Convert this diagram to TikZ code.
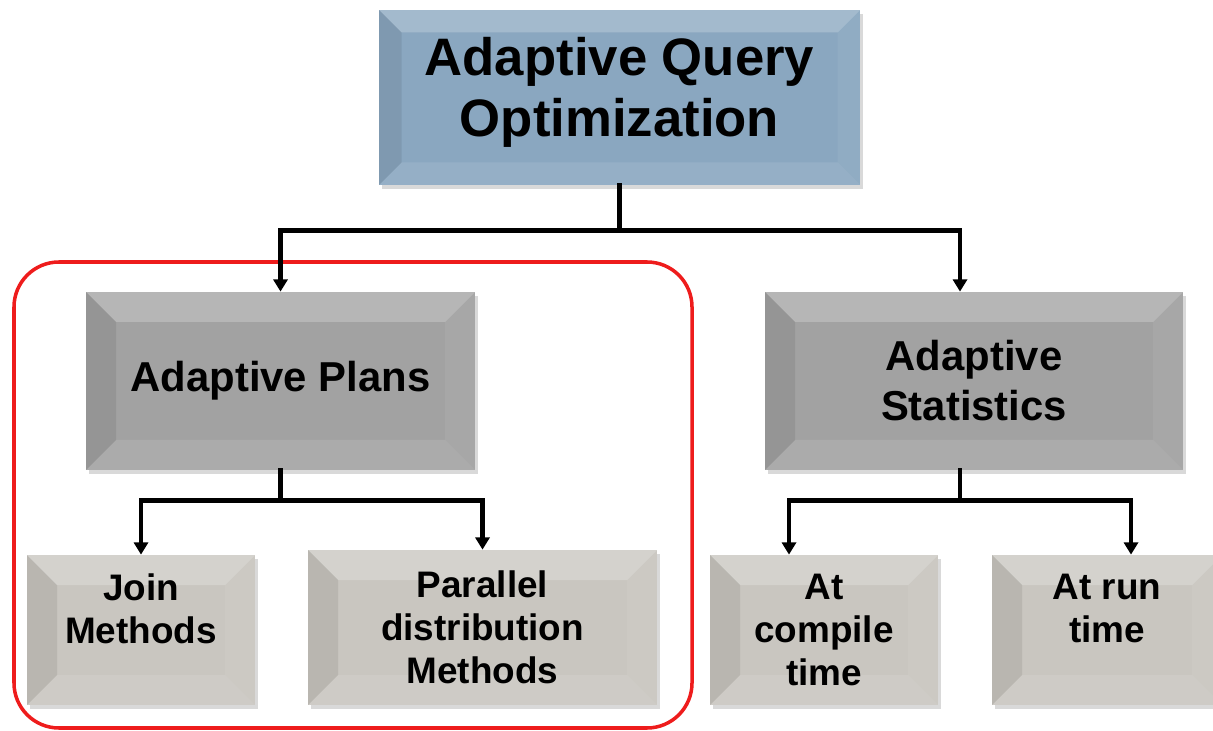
\documentclass[tikz,border=0pt]{standalone}
\usepackage{fontspec}
\setmainfont{Liberation Sans}
\usepackage{xcolor}
\usepackage{tikz}
\usetikzlibrary{arrows.meta,shadows}
\definecolor{topblue}{HTML}{8AA7C0}
\definecolor{midgray}{HTML}{A2A2A2}
\definecolor{leafgray}{HTML}{C9C6C0}
\definecolor{ringred}{HTML}{EE1C1C}
\tikzset{
  bevel/.code={\def\bv{#1}},
  card/.style={fill=#1, inner sep=0pt, align=center, bevel=0.6,
    drop shadow={shadow xshift=1.5pt, shadow yshift=-2pt, opacity=0.3},
    path picture={
      \path (path picture bounding box.north west) coordinate (nw)
            (path picture bounding box.north east) coordinate (ne)
            (path picture bounding box.south east) coordinate (se)
            (path picture bounding box.south west) coordinate (sw);
      \fill[white, opacity=0.22] (nw) -- (ne) -- ([shift={(-\bv,-\bv)}]ne) -- ([shift={(\bv,-\bv)}]nw) -- cycle;
      \fill[black, opacity=0.08] (nw) -- (sw) -- ([shift={(\bv,\bv)}]sw) -- ([shift={(\bv,-\bv)}]nw) -- cycle;
      \fill[white, opacity=0.06] (ne) -- (se) -- ([shift={(-\bv,\bv)}]se) -- ([shift={(-\bv,-\bv)}]ne) -- cycle;
      \fill[white, opacity=0.10] (sw) -- (se) -- ([shift={(-\bv,\bv)}]se) -- ([shift={(\bv,\bv)}]sw) -- cycle;
    }},
  big/.style={font=\bfseries\fontsize{30}{35}\selectfont},
  mid/.style={font=\bfseries\fontsize{23.8}{28.5}\selectfont},
  leaf/.style={card=leafgray, minimum height=3cm, font=\bfseries\fontsize{21}{24.5}\selectfont},
  link/.style={draw=black, line width=2.6pt, line cap=rect},
  tip/.style={link, -{Triangle[width=8pt,length=7pt]}},
  ring/.style={draw=ringred, line width=2pt, rounded corners=0.9cm},
}
\begin{document}
\begin{tikzpicture}
  \useasboundingbox (0,0) rectangle (24.26,-14.62);
  % boxes
  \node[card=topblue, big, bevel=0.45, minimum width=9.62cm, minimum height=3.5cm] (aqo) at (12.39,-1.95) {Adaptive Query\\Optimization\\[-23pt]\mbox{}};
  \node[card=midgray, mid, minimum width=7.78cm, minimum height=3.56cm] (plans) at (5.61,-7.62) {Adaptive Plans};
  \node[card=midgray, mid, minimum width=8.36cm, minimum height=3.56cm] (stats) at (19.48,-7.62) {Adaptive\\Statistics};
  \node[leaf, minimum width=4.56cm] (join) at (2.82,-12.6) {Join\\Methods\\\mbox{}};
  \node[leaf, minimum width=6.98cm, minimum height=3.1cm] (par) at (9.65,-12.55) {Parallel\\distribution\\Methods};
  \node[leaf, minimum width=4.56cm] (comp) at (16.48,-12.6) {At\\compile\\time};
  \node[leaf, minimum width=4.6cm] (run) at (22.14,-12.6) {At run\\time\\\mbox{}};
  % group of plans
  \draw[ring] (0.28,-5.24) rectangle (13.84,-14.56);
  % connectors
  \draw[link] (aqo.south) -- ++(0,-0.9) coordinate (fork);
  \draw[tip] (fork) -| (plans.north);
  \draw[tip] (fork) -| ([xshift=-2.8mm]stats.north);
  \draw[link] (plans.south) -- ++(0,-0.6) coordinate (forkp);
  \draw[tip] (forkp) -| (join.north);
  \draw[tip] (forkp) -| (par.north);
  \draw[link] ([xshift=-2.8mm]stats.south) -- ++(0,-0.6) coordinate (forks);
  \draw[tip] (forks) -| ([xshift=-7mm]comp.north);
  \draw[tip] (forks) -| ([xshift=4.8mm]run.north);
\end{tikzpicture}
\end{document}
